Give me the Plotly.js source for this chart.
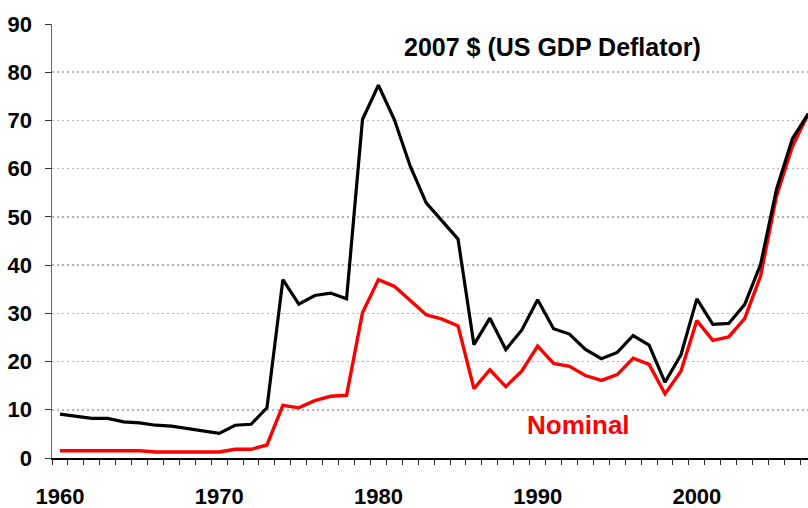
<!DOCTYPE html>
<html>
<head>
<meta charset="utf-8">
<script src="https://cdn.plot.ly/plotly-3.0.1.min.js"></script>
<style>html,body{margin:0;padding:0;background:#fff;}#chart{width:808px;height:508px;}</style>
</head>
<body>
<div id="chart"></div>
<script>
const years = [1960,1961,1962,1963,1964,1965,1966,1967,1968,1969,1970,1971,1972,1973,1974,1975,1976,1977,1978,1979,1980,1981,1982,1983,1984,1985,1986,1987,1988,1989,1990,1991,1992,1993,1994,1995,1996,1997,1998,1999,2000,2001,2002,2003,2004,2005,2006,2007];
const real2007 = [9.1,8.6,8.2,8.2,7.5,7.3,6.8,6.6,6.1,5.6,5.1,6.8,7.0,10.4,37.0,31.9,33.7,34.2,33.0,70.2,77.3,70.2,60.5,52.9,49.1,45.4,23.5,29.0,22.5,26.5,32.8,26.8,25.7,22.5,20.6,21.9,25.4,23.4,15.7,21.4,33.0,27.7,27.9,31.8,40.1,55.7,66.2,71.4];
const nominal = [1.5,1.5,1.5,1.5,1.5,1.5,1.25,1.25,1.25,1.25,1.25,1.8,1.8,2.7,10.9,10.4,11.9,12.8,13.0,30.1,37.0,35.6,32.7,29.7,28.8,27.4,14.4,18.3,14.8,18.0,23.2,19.6,19.0,17.1,16.1,17.3,20.7,19.4,13.3,18.0,28.5,24.4,25.1,28.9,37.7,54.3,64.6,71.4];
const labelYears = [1960,1970,1980,1990,2000];
const yTicks = [0,10,20,30,40,50,60,70,80,90];
const seriesNames = ["2007 $ (US GDP Deflator)", "Nominal"];

const font = "Liberation Sans, Arial, sans-serif";
const xRange = [1959.5, 2006.98];
const data = [
  {x: years, y: nominal, type: 'scatter', mode: 'lines', name: seriesNames[1],
   line: {color: '#ff0000', width: 3.4}},
  {x: years, y: real2007, type: 'scatter', mode: 'lines', name: seriesNames[0],
   line: {color: '#000000', width: 3.2}},
  {x: [], y: [], xaxis: 'x2', yaxis: 'y', type: 'scatter', mode: 'lines', hoverinfo: 'skip', showlegend: false}
];
const layout = {
  width: 808, height: 508,
  margin: {l: 52, r: 0, t: 24, b: 50, pad: 0},
  paper_bgcolor: '#ffffff', plot_bgcolor: '#ffffff',
  showlegend: false,
  font: {family: font, color: '#000'},
  xaxis: {
    range: xRange,
    tickmode: 'array', tickvals: labelYears, ticktext: labelYears.map(String),
    ticks: 'outside', ticklen: 6, tickcolor: 'rgba(0,0,0,0)',
    ticklabelstandoff: 12,
    tickfont: {family: font, size: 22, weight: 'bold', color: '#000'},
    showgrid: false, zeroline: false,
    showline: true, linecolor: '#000', linewidth: 1.5
  },
  xaxis2: {
    range: xRange, overlaying: 'x', anchor: 'y', side: 'bottom',
    tickmode: 'linear', tick0: 1959.5, dtick: 1,
    ticks: 'outside', ticklen: 6, tickcolor: '#222', tickwidth: 1,
    showticklabels: false, showgrid: false, zeroline: false, showline: false
  },
  yaxis: {
    range: [0, 90],
    tickmode: 'array', tickvals: yTicks,
    ticks: 'outside', ticklen: 6, tickcolor: '#333', tickwidth: 1,
    ticklabelstandoff: 8,
    tickfont: {family: font, size: 22, weight: 'bold', color: '#000'},
    showgrid: true, gridcolor: '#b4b4b4', gridwidth: 1.5, griddash: '2px,3px',
    zeroline: false,
    showline: true, linecolor: '#666', linewidth: 1.5
  },
  annotations: [
    {x: 1981.45, y: 85.3, xref: 'x', yref: 'y', xanchor: 'left', yanchor: 'middle',
     text: seriesNames[0], showarrow: false,
     font: {family: font, size: 25, weight: 'bold', color: '#000'}},
    {x: 1989.2, y: 6.9, xref: 'x', yref: 'y', xanchor: 'left', yanchor: 'middle',
     text: seriesNames[1], showarrow: false,
     font: {family: font, size: 26, weight: 'bold', color: '#ff0000'}}
  ]
};
Plotly.newPlot('chart', data, layout, {displayModeBar: false, staticPlot: true});
</script>
</body>
</html>
